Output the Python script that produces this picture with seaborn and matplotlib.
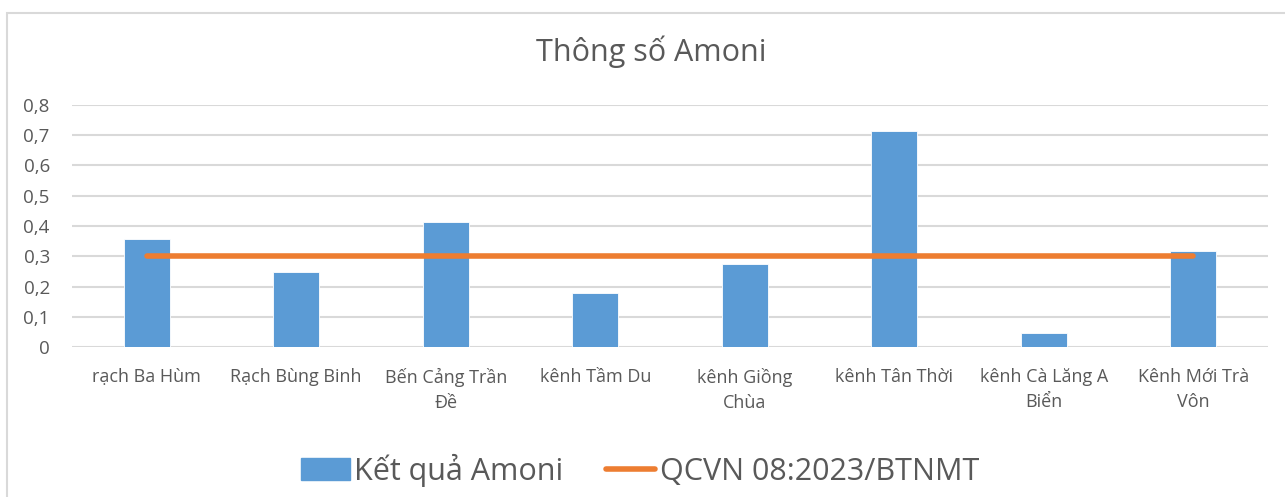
import numpy as np
import pandas as pd
import matplotlib
matplotlib.use("Agg")
import matplotlib.pyplot as plt
from matplotlib.patches import Patch, Rectangle
from matplotlib.lines import Line2D
import seaborn as sns

categories = ["rạch Ba Hùm", "Rạch Bùng Binh", "Bến Cảng Trần\nĐề", "kênh Tầm Du",
              "kênh Giồng\nChùa", "kênh Tân Thời", "kênh Cà Lăng A\nBiển", "Kênh Mới Trà\nVôn"]
amoni_values = [0.357, 0.249, 0.414, 0.180, 0.274, 0.715, 0.045, 0.317]
qcvn_limit = [0.3, 0.3, 0.3, 0.3, 0.3, 0.3, 0.3, 0.3]
y_ticks = [0, 0.1, 0.2, 0.3, 0.4, 0.5, 0.6, 0.7, 0.8]
y_tick_labels = ["0", "0,1", "0,2", "0,3", "0,4", "0,5", "0,6", "0,7", "0,8"]
title = "Thông số Amoni"
series_bar = "Kết quả Amoni"
series_line = "QCVN 08:2023/BTNMT"

BAR_C = "#5B9BD5"
LINE_C = "#ED7D31"
GRID_C = "#D9D9D9"
TEXT_C = "#595959"

sns.set_theme(style="white")
plt.rcParams['font.family'] = ['Liberation Sans Narrow', 'Open Sans', 'DejaVu Sans']

W, H = 1285, 497
fig = plt.figure(figsize=(W / 100, H / 100), dpi=100)
ax = fig.add_axes([72 / W, 1 - 347 / H, (1268 - 72) / W, (347 - 105) / H])

df = pd.DataFrame({"cat": categories, "val": amoni_values})
sns.barplot(data=df, x="cat", y="val", color=BAR_C, width=0.306, saturation=1,
            edgecolor="white", linewidth=0.6, ax=ax, zorder=2)
sns.lineplot(x=np.arange(len(categories)), y=qcvn_limit, color=LINE_C, linewidth=4,
             solid_capstyle="round", ax=ax, zorder=3)

ax.set_xlim(-0.5, len(categories) - 0.5)
ax.set_ylim(0, 0.8)
ax.set_yticks(y_ticks)
ax.set_yticklabels(y_tick_labels)
for y in y_ticks:
    ax.axhline(y, color=GRID_C, linewidth=1.5, zorder=1)
for s in ax.spines.values():
    s.set_visible(False)
ax.set_xlabel("")
ax.set_ylabel("")
ax.tick_params(axis="y", length=0, pad=16, labelsize=13.5, labelcolor=TEXT_C)
ax.tick_params(axis="x", length=0, pad=15, labelsize=13, labelcolor=TEXT_C)
for lbl in ax.get_xticklabels():
    lbl.set_linespacing(1.5)
    lbl.set_verticalalignment("top")

fig.text(651 / W, 1 - 52 / H, title, ha="center", va="center",
         fontsize=22, color=TEXT_C)

handles = [Patch(facecolor=BAR_C, edgecolor=BAR_C),
           Line2D([0], [0], color=LINE_C, linewidth=4, solid_capstyle="round")]
leg = fig.legend(handles, [series_bar, series_line], loc="center",
                 bbox_to_anchor=(640 / W, 1 - 470 / H), ncol=2,
                 frameon=False, fontsize=22, handlelength=1.6, handleheight=0.75,
                 handletextpad=0.15, columnspacing=1.4, labelcolor=TEXT_C)

fig.patches.append(Rectangle((6.5 / W, -0.2), 1.5, 1.2 - 12.5 / H, transform=fig.transFigure,
                             fill=False, edgecolor=GRID_C, linewidth=1.5))

fig.savefig("out.png", dpi=100)
